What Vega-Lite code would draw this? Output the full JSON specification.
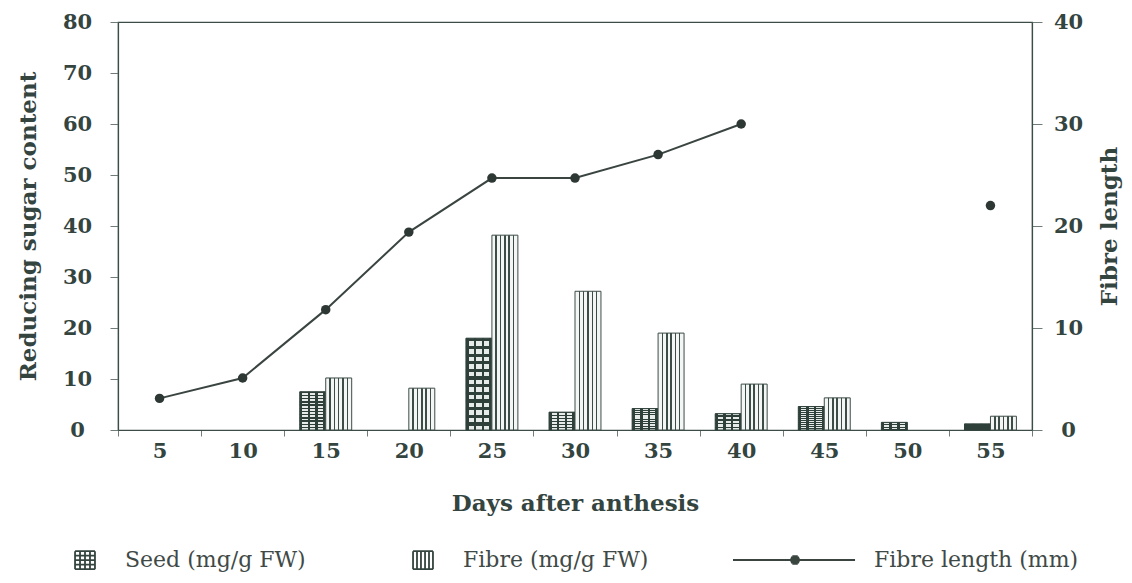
{
  "$schema": "https://vega.github.io/schema/vega-lite/v6.json",
  "width": 914,
  "height": 408,
  "autosize": {"type": "none"},
  "padding": {"left": 118, "top": 22, "right": 100, "bottom": 153},
  "background": "white",
  "config": {
    "view": {"stroke": "#3c4c47", "strokeWidth": 1.2},
    "axis": {
      "labelFont": "DejaVu Serif", "labelFontWeight": "bold", "labelFontSize": 21, "labelColor": "#34443f",
      "titleFont": "DejaVu Serif", "titleFontWeight": "bold", "titleFontSize": 23, "titleColor": "#34443f",
      "grid": false, "domainColor": "#3c4c47", "tickColor": "#6f7c78", "domainWidth": 1.2
    },
    "legend": {
      "labelFont": "DejaVu Serif", "labelFontSize": 22, "labelColor": "#3f4a47",
      "padding": 0, "symbolOpacity": 1, "labelLimit": 400
    }
  },
  "datasets": {
    "bars": [
      {"day": 15, "series": "Seed (mg/g FW)", "value": 7.5},
      {"day": 25, "series": "Seed (mg/g FW)", "value": 18},
      {"day": 30, "series": "Seed (mg/g FW)", "value": 3.5},
      {"day": 35, "series": "Seed (mg/g FW)", "value": 4.2},
      {"day": 40, "series": "Seed (mg/g FW)", "value": 3.2},
      {"day": 45, "series": "Seed (mg/g FW)", "value": 4.6},
      {"day": 50, "series": "Seed (mg/g FW)", "value": 1.5},
      {"day": 55, "series": "Seed (mg/g FW)", "value": 1.2},
      {"day": 15, "series": "Fibre (mg/g FW)", "value": 10.2},
      {"day": 20, "series": "Fibre (mg/g FW)", "value": 8.2},
      {"day": 25, "series": "Fibre (mg/g FW)", "value": 38.2},
      {"day": 30, "series": "Fibre (mg/g FW)", "value": 27.2},
      {"day": 35, "series": "Fibre (mg/g FW)", "value": 19},
      {"day": 40, "series": "Fibre (mg/g FW)", "value": 9},
      {"day": 45, "series": "Fibre (mg/g FW)", "value": 6.3},
      {"day": 55, "series": "Fibre (mg/g FW)", "value": 2.7}
    ],
    "fl": [
      {"day": 5, "length": 3.1},
      {"day": 10, "length": 5.1},
      {"day": 15, "length": 11.8},
      {"day": 20, "length": 19.4},
      {"day": 25, "length": 24.7},
      {"day": 30, "length": 24.7},
      {"day": 35, "length": 27},
      {"day": 40, "length": 30},
      {"day": 55, "length": 22}
    ]
  },
  "encoding": {
    "x": {
      "field": "day", "type": "ordinal",
      "scale": {"domain": [5, 10, 15, 20, 25, 30, 35, 40, 45, 50, 55], "paddingInner": 0, "paddingOuter": 0},
      "axis": {"title": "Days after anthesis", "labelAngle": 0, "tickBand": "extent", "tickSize": 6, "labelPadding": 4, "titlePadding": 31}
    }
  },
  "layer": [
    {
      "data": {"name": "bars"},
      "encoding": {
        "y": {
          "field": "value", "type": "quantitative",
          "scale": {"domain": [0, 80]},
          "axis": {"title": "Reducing sugar content", "orient": "left", "values": [0, 10, 20, 30, 40, 50, 60, 70, 80], "tickSize": 8, "labelAlign": "center", "labelPadding": 33, "titlePadding": 22}
        },
        "xOffset": {"field": "series", "type": "nominal", "scale": {"domain": ["Seed (mg/g FW)", "Fibre (mg/g FW)"], "paddingInner": 0, "paddingOuter": 0.6}}
      },
      "layer": [
        {
          "transform": [{"filter": "datum.series === 'Seed (mg/g FW)'"}],
          "mark": {
            "type": "bar", "stroke": "#2f403b", "strokeWidth": 1,
            "fill": {
              "gradient": "linear", "x1": 0, "y1": 0, "x2": 1, "y2": 0,
              "stops": [
                {"offset": 0, "color": "#2f403b"}, {"offset": 0.1, "color": "#2f403b"},
                {"offset": 0.1, "color": "#e6ebe9"}, {"offset": 0.3, "color": "#e6ebe9"},
                {"offset": 0.3, "color": "#2f403b"}, {"offset": 0.4, "color": "#2f403b"},
                {"offset": 0.4, "color": "#e6ebe9"}, {"offset": 0.6, "color": "#e6ebe9"},
                {"offset": 0.6, "color": "#2f403b"}, {"offset": 0.7, "color": "#2f403b"},
                {"offset": 0.7, "color": "#e6ebe9"}, {"offset": 0.9, "color": "#e6ebe9"},
                {"offset": 0.9, "color": "#2f403b"}, {"offset": 1, "color": "#2f403b"}
              ]
            }
          }
        },
        {
          "transform": [{"filter": "datum.series === 'Seed (mg/g FW)'"}],
          "mark": {
            "type": "bar", "strokeWidth": 0,
            "fill": {
              "gradient": "linear", "x1": 0, "y1": 0, "x2": 0, "y2": 1,
              "stops": [
                {"offset": 0, "color": "#2f403b"}, {"offset": 0.035, "color": "#2f403b"}, {"offset": 0.035, "color": "rgba(47,64,59,0)"}, {"offset": 0.0833, "color": "rgba(47,64,59,0)"},
                {"offset": 0.0833, "color": "#2f403b"}, {"offset": 0.1183, "color": "#2f403b"}, {"offset": 0.1183, "color": "rgba(47,64,59,0)"}, {"offset": 0.1667, "color": "rgba(47,64,59,0)"},
                {"offset": 0.1667, "color": "#2f403b"}, {"offset": 0.2017, "color": "#2f403b"}, {"offset": 0.2017, "color": "rgba(47,64,59,0)"}, {"offset": 0.25, "color": "rgba(47,64,59,0)"},
                {"offset": 0.25, "color": "#2f403b"}, {"offset": 0.285, "color": "#2f403b"}, {"offset": 0.285, "color": "rgba(47,64,59,0)"}, {"offset": 0.3333, "color": "rgba(47,64,59,0)"},
                {"offset": 0.3333, "color": "#2f403b"}, {"offset": 0.3683, "color": "#2f403b"}, {"offset": 0.3683, "color": "rgba(47,64,59,0)"}, {"offset": 0.4167, "color": "rgba(47,64,59,0)"},
                {"offset": 0.4167, "color": "#2f403b"}, {"offset": 0.4517, "color": "#2f403b"}, {"offset": 0.4517, "color": "rgba(47,64,59,0)"}, {"offset": 0.5, "color": "rgba(47,64,59,0)"},
                {"offset": 0.5, "color": "#2f403b"}, {"offset": 0.535, "color": "#2f403b"}, {"offset": 0.535, "color": "rgba(47,64,59,0)"}, {"offset": 0.5833, "color": "rgba(47,64,59,0)"},
                {"offset": 0.5833, "color": "#2f403b"}, {"offset": 0.6183, "color": "#2f403b"}, {"offset": 0.6183, "color": "rgba(47,64,59,0)"}, {"offset": 0.6667, "color": "rgba(47,64,59,0)"},
                {"offset": 0.6667, "color": "#2f403b"}, {"offset": 0.7017, "color": "#2f403b"}, {"offset": 0.7017, "color": "rgba(47,64,59,0)"}, {"offset": 0.75, "color": "rgba(47,64,59,0)"},
                {"offset": 0.75, "color": "#2f403b"}, {"offset": 0.785, "color": "#2f403b"}, {"offset": 0.785, "color": "rgba(47,64,59,0)"}, {"offset": 0.8333, "color": "rgba(47,64,59,0)"},
                {"offset": 0.8333, "color": "#2f403b"}, {"offset": 0.8683, "color": "#2f403b"}, {"offset": 0.8683, "color": "rgba(47,64,59,0)"}, {"offset": 0.9167, "color": "rgba(47,64,59,0)"},
                {"offset": 0.9167, "color": "#2f403b"}, {"offset": 0.9517, "color": "#2f403b"}, {"offset": 0.9517, "color": "rgba(47,64,59,0)"}, {"offset": 1, "color": "rgba(47,64,59,0)"}
              ]
            }
          }
        },
        {
          "transform": [{"filter": "datum.series === 'Fibre (mg/g FW)'"}],
          "mark": {
            "type": "bar", "stroke": "#3c4c47", "strokeWidth": 1,
            "fill": {
              "gradient": "linear", "x1": 0, "y1": 0, "x2": 1, "y2": 0,
              "stops": [
                {"offset": 0, "color": "#f4f6f5"}, {"offset": 0.137, "color": "#f4f6f5"},
                {"offset": 0.137, "color": "#3c4c47"}, {"offset": 0.197, "color": "#3c4c47"},
                {"offset": 0.197, "color": "#f4f6f5"}, {"offset": 0.303, "color": "#f4f6f5"},
                {"offset": 0.303, "color": "#3c4c47"}, {"offset": 0.363, "color": "#3c4c47"},
                {"offset": 0.363, "color": "#f4f6f5"}, {"offset": 0.47, "color": "#f4f6f5"},
                {"offset": 0.47, "color": "#3c4c47"}, {"offset": 0.53, "color": "#3c4c47"},
                {"offset": 0.53, "color": "#f4f6f5"}, {"offset": 0.637, "color": "#f4f6f5"},
                {"offset": 0.637, "color": "#3c4c47"}, {"offset": 0.697, "color": "#3c4c47"},
                {"offset": 0.697, "color": "#f4f6f5"}, {"offset": 0.803, "color": "#f4f6f5"},
                {"offset": 0.803, "color": "#3c4c47"}, {"offset": 0.863, "color": "#3c4c47"},
                {"offset": 0.863, "color": "#f4f6f5"}, {"offset": 1, "color": "#f4f6f5"}
              ]
            }
          }
        },
        {
          "mark": {"type": "point", "opacity": 0, "color": "#34443f", "strokeWidth": 1.8},
          "encoding": {
            "shape": {
              "field": "series", "type": "nominal",
              "scale": {
                "domain": ["Seed (mg/g FW)", "Fibre (mg/g FW)"],
                "range": [
                  "M-0.83,-0.75L-0.83,0.75M-0.415,-0.75L-0.415,0.75M0,-0.75L0,0.75M0.415,-0.75L0.415,0.75M0.83,-0.75L0.83,0.75M-0.83,-0.75L0.83,-0.75M-0.83,-0.375L0.83,-0.375M-0.83,0L0.83,0M-0.83,0.375L0.83,0.375M-0.83,0.75L0.83,0.75",
                  "M-0.83,-0.75L-0.83,0.75M-0.5,-0.75L-0.5,0.75M-0.17,-0.75L-0.17,0.75M0.17,-0.75L0.17,0.75M0.5,-0.75L0.5,0.75M0.83,-0.75L0.83,0.75M-0.83,-0.75L0.83,-0.75M-0.83,0.75L0.83,0.75"
                ]
              },
              "legend": {
                "title": null, "orient": "none", "legendX": -46, "legendY": 525,
                "direction": "horizontal", "columns": 2, "columnPadding": 103,
                "symbolSize": 576, "symbolStrokeWidth": 1.8, "symbolStrokeColor": "#34443f",
                "symbolFillColor": "transparent", "symbolOpacity": 1, "labelOffset": 27
              }
            }
          }
        }
      ]
    },
    {
      "data": {"name": "fl"},
      "encoding": {
        "y": {
          "field": "length", "type": "quantitative",
          "scale": {"domain": [0, 40]},
          "axis": {"title": "Fibre length", "orient": "right", "values": [0, 10, 20, 30, 40], "tickSize": 10, "labelAlign": "center", "labelPadding": 26, "titleAngle": 270, "titleBaseline": "top", "titlePadding": 16}
        }
      },
      "layer": [
        {
          "transform": [{"filter": "datum.day <= 40"}],
          "mark": {"type": "line", "strokeWidth": 2},
          "encoding": {
            "stroke": {
              "datum": "Fibre length (mm)", "type": "nominal",
              "scale": {"range": ["#3a4540"]},
              "legend": {
                "title": null, "orient": "none", "legendX": 722, "legendY": 525,
                "symbolType": "M-10,0L0.17,0M-5.056,-0.33L-4.604,-0.33M-5.164,-0.22L-4.496,-0.22M-5.215,-0.11L-4.445,-0.11M-5.215,0.11L-4.445,0.11M-5.164,0.22L-4.496,0.22M-5.056,0.33L-4.604,0.33",
                "symbolSize": 576, "symbolStrokeWidth": 1.8, "symbolFillColor": "#3a4540", "labelOffset": 8
              }
            }
          }
        },
        {
          "mark": {"type": "circle", "size": 90, "color": "#2d3834", "opacity": 1}
        }
      ]
    }
  ],
  "resolve": {"scale": {"y": "independent"}}
}
